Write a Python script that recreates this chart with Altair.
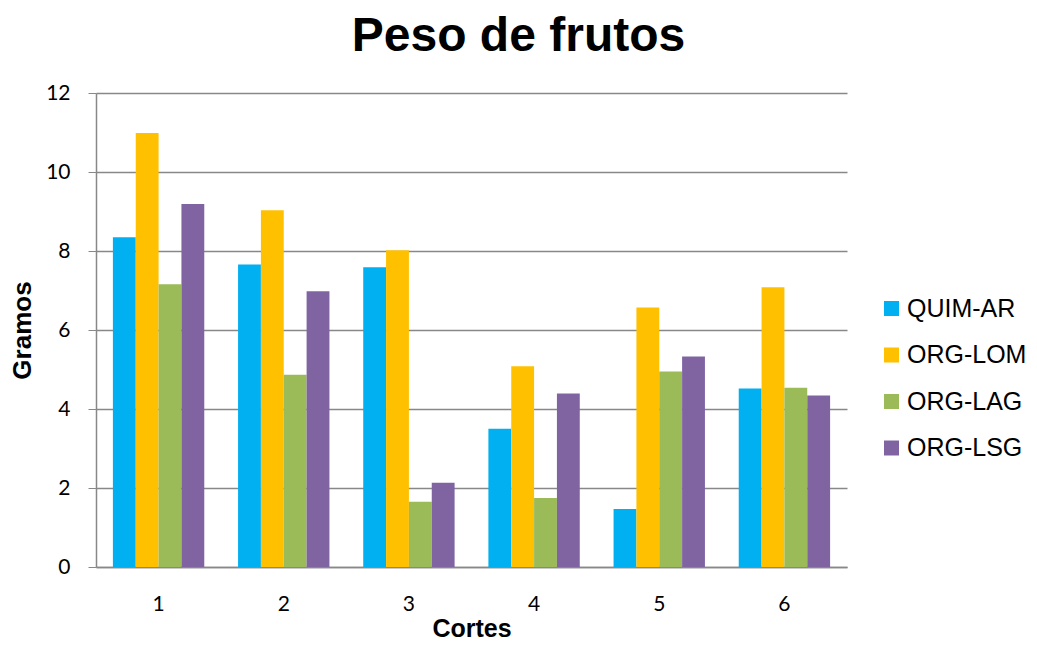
import altair as alt
import pandas as pd

cortes = ["1", "2", "3", "4", "5", "6"]
series = ["QUIM-AR", "ORG-LOM", "ORG-LAG", "ORG-LSG"]
colors = ["#00B0F0", "#FFC000", "#9BBB59", "#8064A2"]
quim_ar = [8.35, 7.66, 7.59, 3.50, 1.47, 4.52]
org_lom = [10.99, 9.03, 8.02, 5.08, 6.57, 7.08]
org_lag = [7.16, 4.87, 1.65, 1.75, 4.95, 4.54]
org_lsg = [9.19, 6.98, 2.13, 4.39, 5.33, 4.34]

rows = []
for s, vals in zip(series, [quim_ar, org_lom, org_lag, org_lsg]):
    for c, v in zip(cortes, vals):
        rows.append({"Cortes": c, "Serie": s, "Gramos": v})
df = pd.DataFrame(rows)

FONT = "Liberation Sans"
TICKFONT = "Lato"

chart = alt.Chart(df).mark_bar().encode(
    x=alt.X("Cortes:N", sort=cortes,
            scale=alt.Scale(paddingInner=0.27, paddingOuter=0.135),
            axis=alt.Axis(title="Cortes", labelAngle=0, labelFontSize=21,
                          labelColor="#000", labelFont=TICKFONT, ticks=False,
                          labelPadding=26, domainColor="#888", domainWidth=1.5,
                          titleFontSize=25, titleFont=FONT, titleFontWeight="bold",
                          titleColor="#000", titlePadding=2)),
    xOffset=alt.XOffset("Serie:N", sort=series),
    y=alt.Y("Gramos:Q", scale=alt.Scale(domain=[0, 12]),
            axis=alt.Axis(title="Gramos", values=[0, 2, 4, 6, 8, 10, 12],
                          labelFontSize=21, labelColor="#000", labelFont=TICKFONT,
                          tickSize=8, tickColor="#888", labelPadding=18,
                          domainColor="#888", domainWidth=1.5,
                          gridColor="#888", gridWidth=1.5,
                          titleFontSize=26, titleFont=FONT, titleFontWeight="bold",
                          titleColor="#000", titlePadding=10)),
    color=alt.Color("Serie:N", sort=series,
                    scale=alt.Scale(domain=series, range=colors),
                    legend=alt.Legend(title=None, orient="none", legendX=783,
                                      legendY=203, symbolType="square",
                                      symbolSize=225, labelFontSize=25,
                                      labelFont=FONT, labelColor="#000",
                                      rowPadding=20.5, symbolStrokeWidth=0,
                                      labelOffset=3)),
).properties(
    width=751, height=474,
    title=alt.TitleParams("Peso de frutos", fontSize=48, font=FONT,
                          fontWeight="bold", color="#000", anchor="middle",
                          dx=47, offset=21),
    autosize=alt.AutoSizeParams(type="none"),
    padding={"left": 88, "top": 85, "right": 182, "bottom": 77},
).configure_view(stroke=None)

chart.save("out.html", embed_options={"renderer": "svg", "actions": False})
